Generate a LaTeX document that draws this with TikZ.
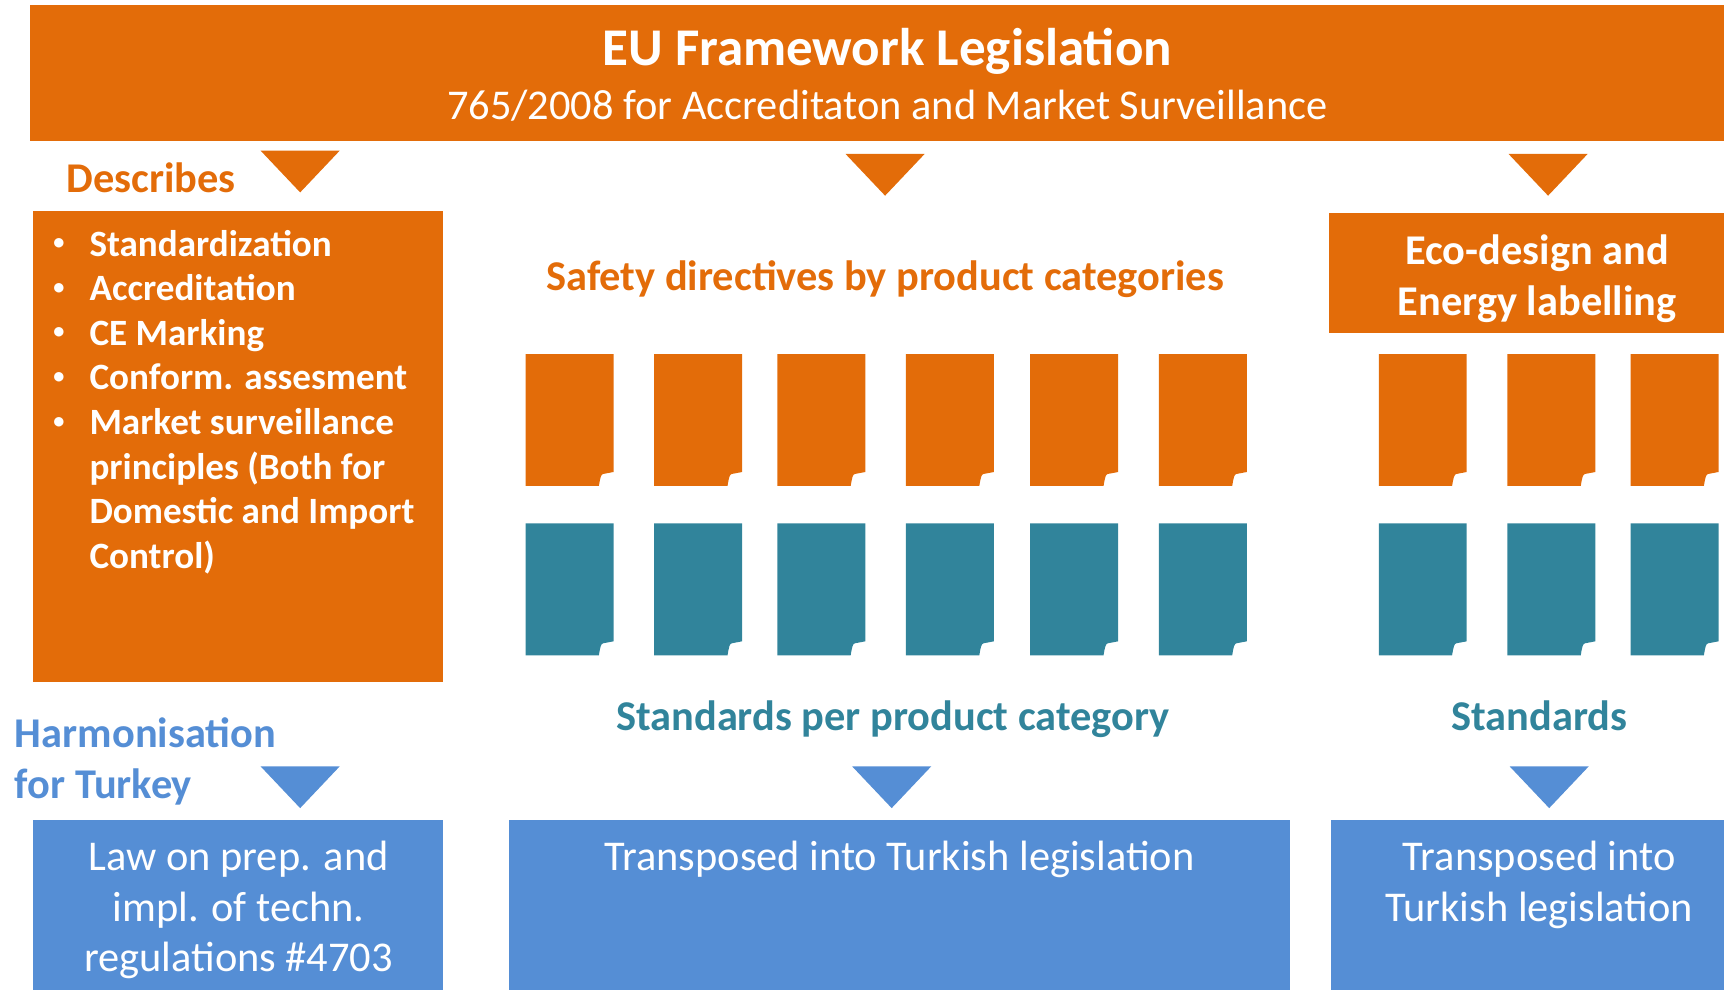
\documentclass[tikz,border=0pt]{standalone}
\usepackage{fontspec}
\setmainfont{Carlito}
\usepackage{tikz}
\definecolor{euorange}{HTML}{E36C09}
\definecolor{stdteal}{HTML}{31849B}
\definecolor{trblue}{HTML}{558ED5}
\newcommand{\bigfont}{\fontsize{15.1}{18.4}\selectfont}
\newcommand{\midfont}{\fontsize{12.07}{14.34}\selectfont}
\newcommand{\smallfont}{\fontsize{10.57}{12.69}\selectfont}
\newcommand{\mlines}[1]{\begin{tabular}[t]{@{}c@{}}#1\end{tabular}}
\newcommand{\dotmark}{\makebox[17.46pt]{\raisebox{1.8pt}{\scalebox{0.6}{\textbullet}}}}
\newcommand{\downtri}[3]{\fill[#3] (#1-36,#2) -- (#1+36,#2) -- (#1,#2+38) -- cycle;}
\newcommand{\docsheet}[3]{\fill[#3] (#1,#2) -- (#1+80,#2) -- (#1+80,#2+107.3) -- (#1+70.5,#2+109.1)
  .. controls (#1+68.6,#2+109.6) and (#1+68,#2+112) .. (#1+66.7,#2+120) -- (#1,#2+120) -- cycle;}
\tikzstyle{txt}=[inner sep=0pt, anchor=base, font=\midfont]
\tikzstyle{head}=[txt, font=\midfont\bfseries]

\begin{document}
\begin{tikzpicture}[x=0.011cm, y=-0.011cm]
    \useasboundingbox (0,0) rectangle (1568,900);
    \fill[euorange] (27,5) rectangle (1568,128);
    \node[txt, text=white, font=\bigfont\bfseries] (title) at (807,60) {EU Framework Legislation};
    \node[txt, text=white] (subtitle) at (807,109) {765/2008 for Accreditaton and Market Surveillance};
    \downtri{273}{137}{euorange}
    \downtri{805}{140}{euorange}
    \downtri{1408}{140}{euorange}
    \node[head, text=euorange, anchor=base west] (describes) at (60,175) {Describes};
    \fill[euorange] (30,192) rectangle (403,620);
    \node[txt, text=white, font=\smallfont\bfseries, anchor=base west] (topics) at (25,233)
        {\begin{tabular}[t]{@{}l@{}l@{}}
        \dotmark & Standardization\\
        \dotmark & Accreditation\\
        \dotmark & CE Marking\\
        \dotmark & Conform. assesment\\
        \dotmark & Market surveillance\\
         & principles (Both for\\
         & Domestic and Import\\
         & Control)
        \end{tabular}};
    \node[head, text=euorange] (safety) at (805,264) {Safety directives by product categories};
    \fill[euorange] (1209,194) rectangle (1568,303);
    \node[head, text=white] (eco) at (1398,241) {\mlines{Eco-design and\\Energy labelling}};
    \foreach \x in {478,595,707,824,937,1054,1254,1371,1483} {
        \docsheet{\x}{322}{euorange}
        \docsheet{\x}{476}{stdteal}
    }
    \node[head, text=stdteal] (stdcat) at (812,664) {Standards per product category};
    \node[head, text=stdteal] (std) at (1400,664) {Standards};
    \node[head, text=trblue, anchor=base west] (harmon) at (13,680)
        {\begin{tabular}[t]{@{}l@{}}Harmonisation\\for Turkey\end{tabular}};
    \downtri{273}{697}{trblue}
    \downtri{811}{697}{trblue}
    \downtri{1409}{697}{trblue}
    \fill[trblue] (30,746) rectangle (403,900);
    \fill[trblue] (463,746) rectangle (1173,900);
    \fill[trblue] (1211,746) rectangle (1568,900);
    \node[txt, text=white] (law) at (217,792) {\mlines{Law on prep. and\\impl. of techn.\\regulations \#4703}};
    \node[txt, text=white] (trmid) at (818,792) {Transposed into Turkish legislation};
    \node[txt, text=white] (trright) at (1400,792) {\mlines{Transposed into\\Turkish legislation}};
\end{tikzpicture}
\end{document}
